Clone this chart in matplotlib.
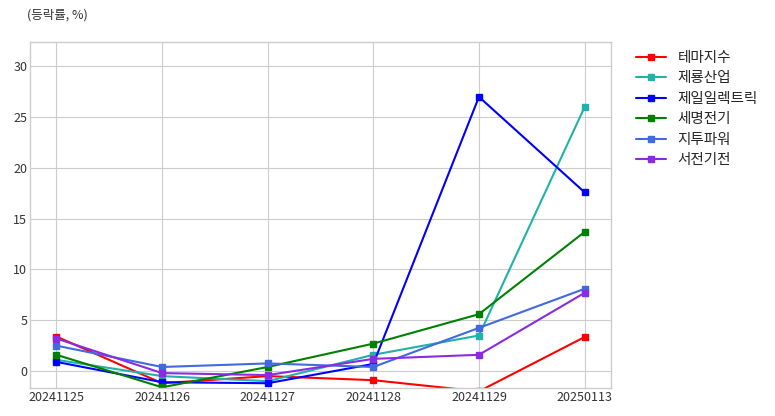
import matplotlib
matplotlib.use("Agg")
import matplotlib.pyplot as plt
import numpy as np

dates = ["20241125", "20241126", "20241127", "20241128", "20241129", "20250113"]

names = ["테마지수", "제룡산업", "제일일렉트릭", "세명전기", "지투파워", "서전기전"]
theme = [3.4, -1.2, -0.5, -0.9, -2.0, 3.35]
jeryong = [1.1, -0.5, -1.0, 1.6, 3.5, 26.0]
jeil = [0.9, -1.1, -1.2, 0.7, 27.0, 17.6]
semyung = [1.6, -1.6, 0.4, 2.7, 5.6, 13.7]
jitu = [2.5, 0.4, 0.75, 0.4, 4.25, 8.1]
seojeon = [3.2, -0.2, -0.4, 1.2, 1.6, 7.7]

series = [theme, jeryong, jeil, semyung, jitu, seojeon]
colors = ["red", "lightseagreen", "blue", "green", "royalblue", "blueviolet"]

plt.style.use("seaborn-v0_8-whitegrid")
plt.rcParams['font.family'] = ['Noto Sans CJK KR', 'DejaVu Sans']

fig = plt.figure(figsize=(7.75, 4.16), dpi=100)
ax = fig.add_axes([0.0387, 0.0673, 0.7497, 0.8317])

x = np.arange(len(dates))
for name, vals, c in zip(names, series, colors):
    ax.plot(x, vals, "-s", color=c, label=name, markersize=4, linewidth=1.5)

ax.set_xticks(x)
ax.set_xticklabels(dates)
ax.set_xlim(-0.25, 5.25)
ax.set_ylim(-1.67, 32.4)
ax.set_yticks([0, 5, 10, 15, 20, 25, 30])
ax.tick_params(labelsize=9, colors="#333333", pad=2)
for s in ax.spines.values():
    s.set_visible(True)
    s.set_color("#cccccc")

fig.text(0.035, 0.963, "(등락률, %)", fontsize=9, color="#333333", ha="left", va="center")

ax.legend(loc="upper left", bbox_to_anchor=(1.02, 1.013), frameon=False, fontsize=10.5,
          handlelength=2.1, handletextpad=0.75, labelspacing=0.45)

fig.savefig("out.png", dpi=100)
